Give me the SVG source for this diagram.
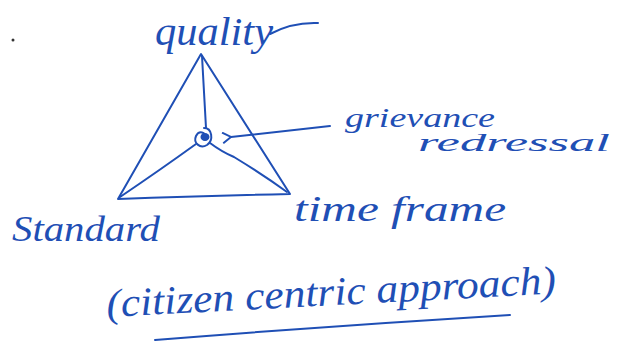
<svg xmlns="http://www.w3.org/2000/svg" width="617" height="344" viewBox="0 0 617 344">
<defs>
<style>
.ink{fill:none;stroke:#1f4fb5;stroke-width:2;stroke-linecap:round;stroke-linejoin:round}
.t{fill:#1f4fb5;font-family:"Liberation Serif",serif;font-style:italic}
</style>
<marker id="ah" viewBox="0 0 10 10" refX="1" refY="5" markerWidth="12" markerHeight="12" markerUnits="userSpaceOnUse" orient="auto">
<path d="M8,0.5 L1,5 L8,9.5" fill="none" stroke="#1f4fb5" stroke-width="1.6"/>
</marker>
</defs>
<rect width="617" height="344" fill="#ffffff"/>
<g id="triangle">
<path class="ink" d="M201,54 L118,199 Q200,196 290,194 Z"/>
</g>
<g id="center">
<path class="ink" d="M204,128 C212,128 214,140 207,145 C200,149 193,143 196,136 C199,130 206,132 205,138" />
<ellipse cx="205" cy="137" rx="4.5" ry="4" fill="#1f4fb5"/>
</g>
<g id="connectors">
<path class="ink" d="M202,56 Q204,90 206,128"/>
<path class="ink" d="M120,197 Q160,170 196,144"/>
<path class="ink" d="M210,143 Q222,152 234,157 Q262,174 287,192"/>
<path class="ink" d="M330,126 L231,137" marker-end="url(#ah)"/>
<path class="ink" d="M270,34 Q292,22 318,23"/>
<path class="ink" d="M155,340 Q330,326 510,315"/>
</g>
<g id="quality"><text class="t" x="155" y="45" font-size="40" textLength="118" lengthAdjust="spacingAndGlyphs">quality</text></g>
<g id="grievance"><text class="t" x="345" y="127" font-size="28" textLength="150" lengthAdjust="spacingAndGlyphs">grievance</text><text class="t" x="418" y="151" font-size="26" textLength="192" lengthAdjust="spacingAndGlyphs">redressal</text></g>
<g id="standard"><text class="t" x="12" y="241" font-size="36" textLength="148" lengthAdjust="spacingAndGlyphs">Standard</text></g>
<g id="timeframe"><text class="t" x="294" y="221" font-size="36" textLength="212" lengthAdjust="spacingAndGlyphs">time frame</text></g>
<g id="approach"><text class="t" x="107" y="317" font-size="40" textLength="450" lengthAdjust="spacingAndGlyphs" transform="rotate(-3 107 317)">(citizen centric approach)</text></g>
<circle cx="13" cy="40" r="1.5" fill="#333"/>
</svg>
